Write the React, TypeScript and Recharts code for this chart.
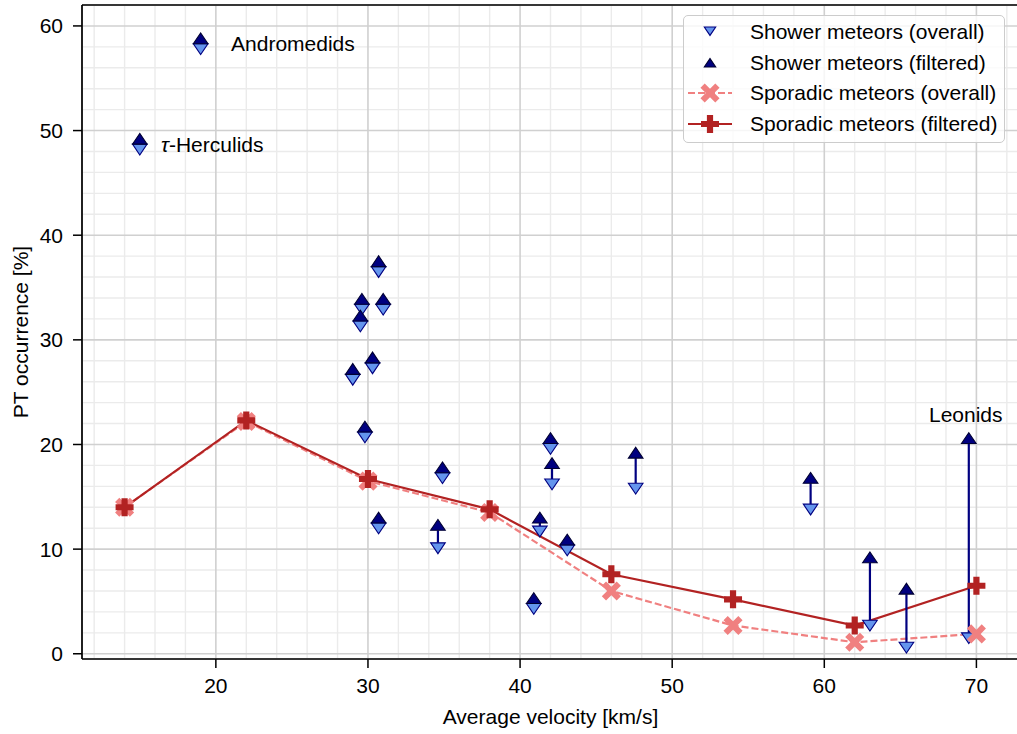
import {
  CartesianGrid,
  ComposedChart,
  Legend,
  Line,
  ReferenceLine,
  Scatter,
  XAxis,
  YAxis,
} from 'recharts';

const FONT = '"Liberation Sans", Arial, Helvetica, sans-serif';
const FONT_SIZE = 21;

// axis limits and ticks
const V_DOMAIN = [11.2, 72.8];
const PCT_DOMAIN = [-0.5, 62];
const V_TICKS = [20, 30, 40, 50, 60, 70];
const V_MINOR_TICKS = [12, 14, 16, 18, 22, 24, 26, 28, 32, 34, 36, 38, 42, 44, 46, 48, 52, 54, 56, 58, 62, 64, 66, 68, 72];
const PCT_TICKS = [0, 10, 20, 30, 40, 50, 60];
const PCT_MINOR_TICKS = [2, 4, 6, 8, 12, 14, 16, 18, 22, 24, 26, 28, 32, 34, 36, 38, 42, 44, 46, 48, 52, 54, 56, 58];

// sporadic meteors, binned by average velocity
const SPORADIC_V = [14, 22, 30, 38, 46, 54, 62, 70];
const SPORADIC_OVERALL = [14.0, 22.2, 16.5, 13.5, 6.0, 2.7, 1.1, 1.9];
const SPORADIC_FILTERED = [14.0, 22.3, 16.7, 13.8, 7.6, 5.2, 2.7, 6.5];

// individual showers
const SHOWER_V = [19.0, 15.0, 30.7, 29.6, 29.5, 31.0, 30.3, 29.0, 29.8, 30.7, 34.6, 34.9, 42.0, 42.1, 47.6, 41.3, 43.1, 40.9, 59.1, 63.0, 65.4, 69.5];
const SHOWER_OVERALL = [58.3, 48.7, 37.0, 33.4, 31.8, 33.4, 27.8, 26.7, 21.2, 12.5, 10.6, 17.3, 20.1, 16.7, 16.3, 12.2, 10.4, 4.8, 14.3, 3.2, 1.1, 2.0];
const SHOWER_FILTERED = [58.3, 48.7, 37.0, 33.4, 31.8, 33.4, 27.8, 26.7, 21.2, 12.5, 11.8, 17.3, 20.1, 17.7, 18.7, 12.5, 10.4, 4.8, 16.3, 8.7, 5.7, 20.1];

// shower name annotations
const NOTE_TEXT = ['Andromedids', 'τ-Herculids', 'Leonids'];
const NOTE_V = [21.0, 16.4, 69.3];
const NOTE_PCT = [58.3, 48.7, 22.9];
const NOTE_ANCHOR = ['start', 'start', 'middle'];

const C_SHOWER_OVERALL = '#6495ed';
const C_SHOWER_FILTERED = '#000080';
const C_SPORADIC_OVERALL = '#f08080';
const C_SPORADIC_FILTERED = '#b22222';

const toPoints = (xs: number[], ys: number[]) => xs.map((v, i) => ({ v, pct: ys[i] }));

const sporadicOverall = toPoints(SPORADIC_V, SPORADIC_OVERALL);
const sporadicFiltered = toPoints(SPORADIC_V, SPORADIC_FILTERED);
const showerOverall = toPoints(SHOWER_V, SHOWER_OVERALL);
const showerFiltered = toPoints(SHOWER_V, SHOWER_FILTERED);
const notes = NOTE_TEXT.map((text, i) => ({ v: NOTE_V[i], pct: NOTE_PCT[i], text, anchor: NOTE_ANCHOR[i] }));

const CARET_W = 7.3;
const CARET_H = 10.8;

function CaretUp({ cx, cy, scale = 1 }: any) {
  const w = CARET_W * scale;
  const h = CARET_H * scale;
  return (
    <path
      d={`M${cx - w},${cy} L${cx + w},${cy} L${cx},${cy - h} Z`}
      fill={C_SHOWER_FILTERED}
      stroke="#000033"
      strokeWidth={1.1}
    />
  );
}

function CaretDown({ cx, cy, scale = 1 }: any) {
  const w = CARET_W * scale;
  const h = CARET_H * scale;
  return (
    <path
      d={`M${cx - w},${cy} L${cx + w},${cy} L${cx},${cy + h} Z`}
      fill={C_SHOWER_OVERALL}
      stroke={C_SHOWER_FILTERED}
      strokeWidth={1.1}
    />
  );
}

function plusPath(cx: number, cy: number, l: number, t: number) {
  return (
    `M${cx - t},${cy - l} L${cx + t},${cy - l} L${cx + t},${cy - t} L${cx + l},${cy - t} ` +
    `L${cx + l},${cy + t} L${cx + t},${cy + t} L${cx + t},${cy + l} L${cx - t},${cy + l} ` +
    `L${cx - t},${cy + t} L${cx - l},${cy + t} L${cx - l},${cy - t} L${cx - t},${cy - t} Z`
  );
}

function PlusMarker({ cx, cy }: any) {
  return <path d={plusPath(cx, cy, 9, 3.1)} fill={C_SPORADIC_FILTERED} />;
}

function CrossMarker({ cx, cy }: any) {
  return (
    <path
      d={plusPath(cx, cy, 10.5, 3.0)}
      fill={C_SPORADIC_OVERALL}
      transform={`rotate(45 ${cx} ${cy})`}
    />
  );
}

function NoteLabel({ cx, cy, payload }: any) {
  const text: string = payload.text;
  const italicHead = text.startsWith('τ');
  return (
    <text
      x={cx}
      y={cy}
      textAnchor={payload.anchor}
      dominantBaseline="central"
      fontFamily={FONT}
      fontSize={FONT_SIZE}
      fill="#000"
    >
      {italicHead ? (
        <>
          <tspan fontStyle="italic">τ</tspan>
          {text.slice(1)}
        </>
      ) : (
        text
      )}
    </text>
  );
}

function YLabel({ viewBox }: any) {
  const x = viewBox.x + 20;
  const y = viewBox.y + viewBox.height / 2;
  return (
    <text
      x={x}
      y={y}
      transform={`rotate(-90 ${x} ${y})`}
      textAnchor="middle"
      dominantBaseline="central"
      fontFamily={FONT}
      fontSize={FONT_SIZE}
      fill="#000"
    >
      PT occurrence [%]
    </text>
  );
}

const LEGEND_ROWS = [
  { label: 'Shower meteors (overall)', kind: 'down' },
  { label: 'Shower meteors (filtered)', kind: 'up' },
  { label: 'Sporadic meteors (overall)', kind: 'cross' },
  { label: 'Sporadic meteors (filtered)', kind: 'plus' },
];

function LegendHandle({ kind }: { kind: string }) {
  const cx = 22;
  const cy = 15;
  return (
    <svg width={44} height={30} style={{ display: 'block', flex: 'none' }}>
      {kind === 'down' && <CaretDown cx={cx} cy={cy - 5} scale={0.78} />}
      {kind === 'up' && <CaretUp cx={cx} cy={cy + 4} scale={0.78} />}
      {kind === 'cross' && (
        <>
          <line x1={0} y1={cy} x2={44} y2={cy} stroke={C_SPORADIC_OVERALL} strokeWidth={2.2} strokeDasharray="7 3" />
          <CrossMarker cx={cx} cy={cy} />
        </>
      )}
      {kind === 'plus' && (
        <>
          <line x1={0} y1={cy} x2={44} y2={cy} stroke={C_SPORADIC_FILTERED} strokeWidth={2.2} />
          <PlusMarker cx={cx} cy={cy} />
        </>
      )}
    </svg>
  );
}

function LegendBox() {
  return (
    <div
      style={{
        background: 'rgba(255,255,255,0.8)',
        border: '1.5px solid #cccccc',
        borderRadius: 5,
        padding: '1px 7px 3px 4px',
        fontFamily: FONT,
        fontSize: FONT_SIZE,
        color: '#000',
      }}
    >
      {LEGEND_ROWS.map((row) => (
        <div key={row.label} style={{ display: 'flex', alignItems: 'center', height: 30.6 }}>
          <LegendHandle kind={row.kind} />
          <span style={{ marginLeft: 18, whiteSpace: 'nowrap' }}>{row.label}</span>
        </div>
      ))}
    </div>
  );
}

const tickStyle = { fill: '#000', fontSize: FONT_SIZE, fontFamily: FONT };

export default function App() {
  return (
    <div style={{ width: 1017, height: 734, overflow: 'hidden', position: 'relative', background: '#fff' }}>
      <style>{'body { margin: 0; }'}</style>
      <ComposedChart width={1021} height={734} margin={{ top: 5, right: 2, bottom: 0, left: 0 }}>
        {/* minor ticks come first so they sit on the frame; they take no space */}
        <XAxis
          xAxisId="minor"
          type="number"
          dataKey="v"
          domain={V_DOMAIN}
          allowDataOverflow
          ticks={V_MINOR_TICKS}
          interval={0}
          height={0}
          tickSize={5}
          tick={() => null}
          axisLine={false}
          tickLine={{ stroke: '#000', strokeWidth: 1.3 }}
        />
        <XAxis
          xAxisId="major"
          type="number"
          dataKey="v"
          domain={V_DOMAIN}
          allowDataOverflow
          ticks={V_TICKS}
          interval={0}
          height={75}
          tickSize={9}
          tickMargin={10}
          tick={tickStyle}
          axisLine={{ stroke: '#000', strokeWidth: 1.7 }}
          tickLine={{ stroke: '#000', strokeWidth: 1.5 }}
          label={{
            value: 'Average velocity [km/s]',
            position: 'insideBottom',
            offset: 10,
            fill: '#000',
            fontSize: FONT_SIZE,
            fontFamily: FONT,
          }}
        />
        <YAxis
          yAxisId="minor"
          type="number"
          dataKey="pct"
          domain={PCT_DOMAIN}
          allowDataOverflow
          ticks={PCT_MINOR_TICKS}
          interval={0}
          width={0}
          tickSize={5}
          tick={() => null}
          axisLine={false}
          tickLine={{ stroke: '#000', strokeWidth: 1.3 }}
        />
        <YAxis
          yAxisId="major"
          type="number"
          dataKey="pct"
          domain={PCT_DOMAIN}
          allowDataOverflow
          ticks={PCT_TICKS}
          interval={0}
          width={82}
          tickSize={9}
          tickMargin={10}
          tick={tickStyle}
          axisLine={{ stroke: '#000', strokeWidth: 1.7 }}
          tickLine={{ stroke: '#000', strokeWidth: 1.5 }}
          label={YLabel}
        />

        <CartesianGrid xAxisId="minor" yAxisId="minor" stroke="#ebebeb" strokeWidth={1.4} />
        <CartesianGrid xAxisId="major" yAxisId="major" stroke="#d0d0d0" strokeWidth={1.6} />

        {/* top and right frame */}
        <ReferenceLine xAxisId="major" yAxisId="major" y={PCT_DOMAIN[1]} stroke="#000" strokeWidth={1.7} />
        <ReferenceLine xAxisId="major" yAxisId="major" x={V_DOMAIN[1]} stroke="#000" strokeWidth={1.7} />

        <Line
          xAxisId="major"
          yAxisId="major"
          data={sporadicOverall}
          dataKey="pct"
          type="linear"
          stroke={C_SPORADIC_OVERALL}
          strokeWidth={2.2}
          strokeDasharray="7 3"
          dot={(p: any) => <CrossMarker key={`so${p.index}`} cx={p.cx} cy={p.cy} />}
          activeDot={false}
          isAnimationActive={false}
        />
        <Line
          xAxisId="major"
          yAxisId="major"
          data={sporadicFiltered}
          dataKey="pct"
          type="linear"
          stroke={C_SPORADIC_FILTERED}
          strokeWidth={2.2}
          dot={(p: any) => <PlusMarker key={`sf${p.index}`} cx={p.cx} cy={p.cy} />}
          activeDot={false}
          isAnimationActive={false}
        />

        {/* change between overall and filtered occurrence for each shower */}
        {SHOWER_V.map((v, i) =>
          SHOWER_OVERALL[i] === SHOWER_FILTERED[i] ? null : (
            <ReferenceLine
              key={`seg${i}`}
              xAxisId="major"
              yAxisId="major"
              segment={[
                { x: v, y: SHOWER_OVERALL[i] },
                { x: v, y: SHOWER_FILTERED[i] },
              ]}
              stroke={C_SHOWER_FILTERED}
              strokeWidth={2.2}
            />
          ),
        )}

        <Scatter
          xAxisId="major"
          yAxisId="major"
          data={showerOverall}
          dataKey="pct"
          shape={(p: any) => <CaretDown cx={p.cx} cy={p.cy} />}
          isAnimationActive={false}
        />
        <Scatter
          xAxisId="major"
          yAxisId="major"
          data={showerFiltered}
          dataKey="pct"
          shape={(p: any) => <CaretUp cx={p.cx} cy={p.cy} />}
          isAnimationActive={false}
        />
        <Scatter
          xAxisId="major"
          yAxisId="major"
          data={notes}
          dataKey="pct"
          shape={(p: any) => <NoteLabel {...p} />}
          isAnimationActive={false}
        />
        {/* anchor the minor axes to data so they build their scales */}
        <Scatter
          xAxisId="minor"
          yAxisId="minor"
          data={showerOverall}
          dataKey="pct"
          shape={() => <g />}
          legendType="none"
          isAnimationActive={false}
        />

        <Legend
          layout="horizontal"
          align="center"
          verticalAlign="middle"
          content={() => <LegendBox />}
          wrapperStyle={{ left: 683, top: 15, width: 'auto', bottom: 'auto', right: 'auto' }}
        />
      </ComposedChart>
    </div>
  );
}
